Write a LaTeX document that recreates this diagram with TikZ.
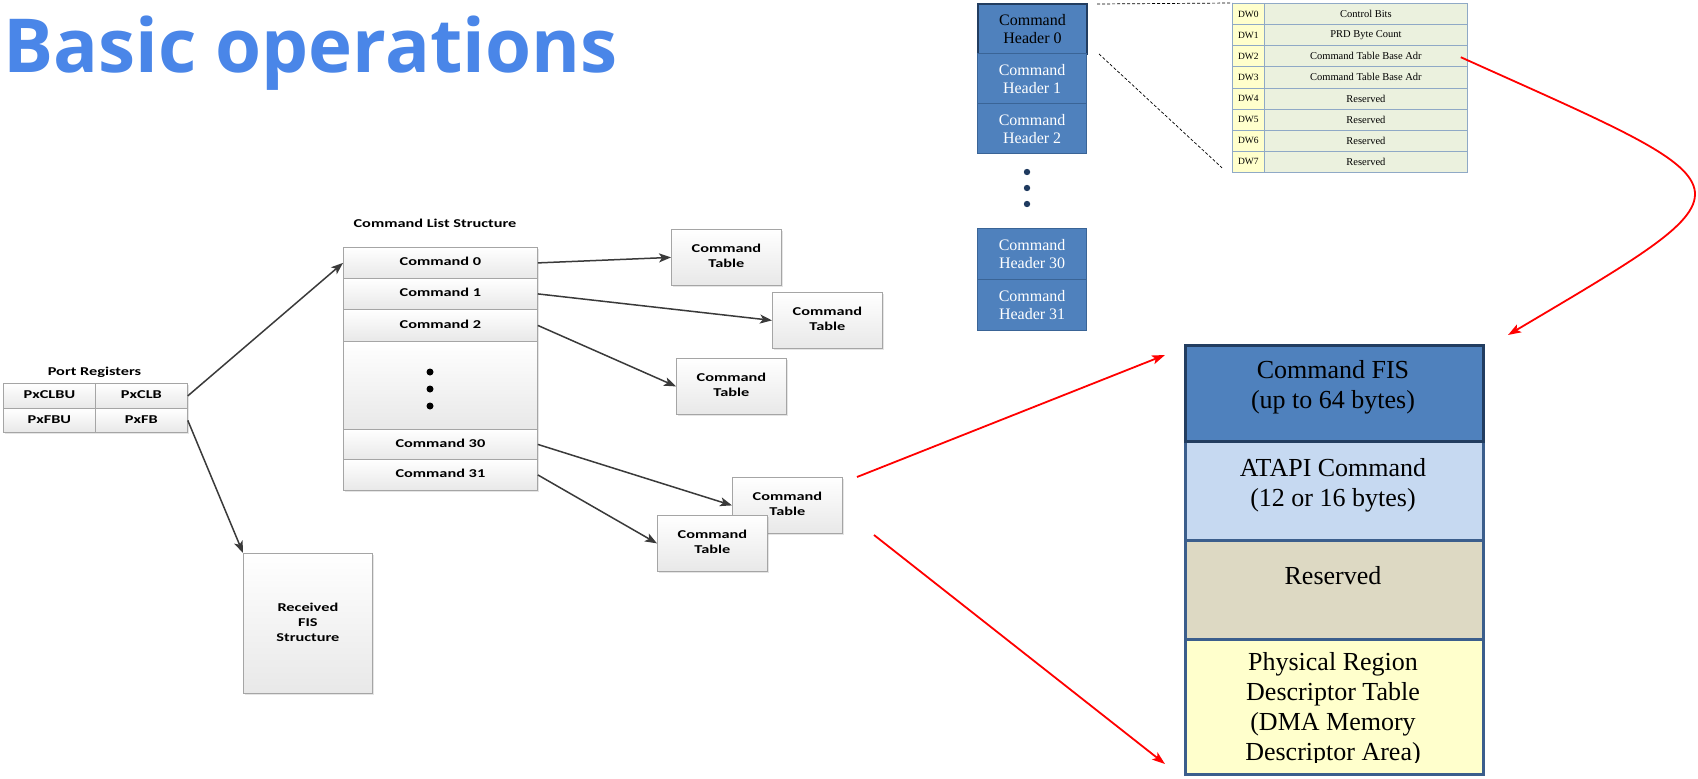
\documentclass[tikz,border=0pt]{standalone}
\usepackage{fontspec}
\usepackage{graphicx}
\setmainfont{Liberation Serif}
\newfontfamily\titlefont{Open Sans}
\newfontfamily\visiofont{Carlito}
\usetikzlibrary{arrows.meta,shadows,calc}

\definecolor{titleblue}{HTML}{4A86E8}
\definecolor{boxline}{HTML}{A5A5A5}
\definecolor{boxbot}{HTML}{E8E8E8}
\definecolor{arrowgray}{HTML}{3A3A3A}
\definecolor{hdrfill}{HTML}{4F81BD}
\definecolor{hdrline}{HTML}{3A6496}
\definecolor{hdrdark}{HTML}{223D60}
\definecolor{gridc}{HTML}{8FA9C6}
\definecolor{dwfill}{HTML}{FFFFCC}
\definecolor{descfill}{HTML}{EBF1DE}
\definecolor{atapifill}{HTML}{C6D9F1}
\definecolor{resfill}{HTML}{DDD9C3}
\definecolor{prdfill}{HTML}{FFFFCC}
\definecolor{frameblue}{HTML}{3B5E8C}
\definecolor{dotblue}{HTML}{1F3A5F}

% wide bold sans labels of the structure diagram
\newcommand{\vtext}[1]{\scalebox{1.36}[1]{\begin{tabular}{@{}c@{}}#1\end{tabular}}}

\tikzset{
  graybox/.style={draw=boxline, line width=0.8pt, top color=white, bottom color=boxbot,
    inner sep=0pt, anchor=north west, font=\visiofont\bfseries\fontsize{12}{15}\selectfont},
  shadowed/.style={drop shadow={shadow xshift=1.6pt, shadow yshift=-1.6pt, opacity=0.2}},
  cmdrow/.style={graybox, minimum width=194pt},
  cmdtab/.style={graybox, shadowed, minimum width=110pt, minimum height=56pt},
  caption/.style={inner sep=0pt, font=\visiofont\bfseries\fontsize{12}{15}\selectfont},
  link/.style={draw=arrowgray, line width=1.5pt, -{Stealth[length=12pt,width=9pt,inset=3pt]}},
  redlink/.style={draw=red, line width=1.8pt, -{Stealth[length=13pt,width=9pt,inset=3pt]}},
  hdr/.style={draw=hdrline, line width=1.2pt, fill=hdrfill, text=white, minimum width=109pt,
    minimum height=50pt, anchor=north west, inner sep=0pt, align=center,
    font=\fontsize{16}{18}\selectfont},
  dwcell/.style={draw=gridc, line width=0.8pt, fill=dwfill, minimum width=32pt,
    minimum height=21.125pt, anchor=north west, inner sep=0pt, font=\fontsize{9.5}{11}\selectfont},
  desccell/.style={draw=gridc, line width=0.8pt, fill=descfill, minimum width=203pt,
    minimum height=21.125pt, anchor=north west, inner sep=0pt, font=\fontsize{10.5}{12}\selectfont},
  sect/.style={draw=frameblue, line width=3pt, minimum width=298pt, anchor=north west, inner sep=0pt},
  secttext/.style={inner sep=0pt, align=center, font=\fontsize{26}{30}\selectfont},
  dashline/.style={draw=black, line width=0.7pt, dash pattern=on 3pt off 2pt},
}

\begin{document}
\begin{tikzpicture}[x=1pt,y=-1pt]
\useasboundingbox (0,0) rectangle (1698,779);
\fill[white] (0,0) rectangle (1698,779);

% heading
\node[anchor=base west, inner sep=0pt, text=titleblue,
  font=\titlefont\bfseries\fontsize{74.5}{80}\selectfont] (title) at (3,72) {Basic operations};

% ---- port registers ----
\node[caption] (porttitle) at (94.5,372) {\vtext{Port Registers}};
\node[graybox, shadowed, minimum width=184pt, minimum height=49pt] (portbg) at (3,383) {};
\node[graybox, minimum width=92pt, minimum height=25pt] (clbu) at (3,383) {\vtext{PxCLBU}};
\node[graybox, minimum width=92pt, minimum height=25pt] (clb) at (95,383) {\vtext{PxCLB}};
\node[graybox, minimum width=92pt, minimum height=24pt] (fbu) at (3,408) {\vtext{PxFBU}};
\node[graybox, minimum width=92pt, minimum height=24pt] (fb) at (95,408) {\vtext{PxFB}};

% ---- command list ----
\node[caption] (cmdtitle) at (435,224) {\vtext{Command List Structure}};
\node[graybox, shadowed, minimum width=194pt, minimum height=243pt] (cmdlist) at (343,247) {};
\node[cmdrow, minimum height=31pt] (cmd0) at (343,247) {\vtext{Command 0}};
\node[cmdrow, minimum height=31pt] (cmd1) at (343,278) {\vtext{Command 1}};
\node[cmdrow, minimum height=32pt] (cmd2) at (343,309) {\vtext{Command 2}};
\node[cmdrow, minimum height=88pt] (cmdgap) at (343,341) {};
\node[cmdrow, minimum height=30pt] (cmd30) at (343,429) {\vtext{Command 30}};
\node[cmdrow, minimum height=31pt] (cmd31) at (343,459) {\vtext{Command 31}};
\foreach \yy in {372,389,406} \fill[black] (430,\yy) circle (3.5);

% ---- command tables ----
\node[cmdtab] (ct1) at (671,229) {\vtext{Command\\Table}};
\node[cmdtab] (ct2) at (772,292) {\vtext{Command\\Table}};
\node[cmdtab] (ct3) at (676,358) {\vtext{Command\\Table}};
\node[cmdtab] (ct4) at (732,477) {\vtext{Command\\Table}};
\node[cmdtab] (ct5) at (657,515) {\vtext{Command\\Table}};

% ---- received FIS ----
\node[graybox, shadowed, minimum width=129pt, minimum height=140pt] (rfis) at (243,553)
  {\vtext{Received\\FIS\\Structure}};

% connectors of the structure diagram
\draw[link] (clb.east) -- (cmd0.west);
\draw[link] (fb.east) -- (rfis.north west);
\draw[link] (cmd0.east) -- (ct1.west);
\draw[link] (cmd1.east) -- (ct2.west);
\draw[link] (cmd2.east) -- (ct3.west);
\draw[link] (cmd30.east) -- (ct4.west);
\draw[link] (cmd31.east) -- (ct5.west);

% ---- command headers ----
\node[hdr, draw=hdrdark, line width=2pt, text=black] (hdr0) at (977,3) {Command\\Header 0};
\node[hdr] (hdr1) at (977,53) {Command\\Header 1};
\node[hdr] (hdr2) at (977,103) {Command\\Header 2};
\node[hdr, minimum height=51pt] (hdr30) at (977,228) {Command\\Header 30};
\node[hdr, minimum height=51pt] (hdr31) at (977,279) {Command\\Header 31};
\foreach \yy in {172,188,204} \fill[dotblue] (1027,\yy) circle (3.2);

% ---- command header layout ----
\foreach \i/\d in {0/Control Bits,1/PRD Byte Count,2/Command Table Base Adr,
    3/Command Table Base Adr,4/Reserved,5/Reserved,6/Reserved,7/Reserved}{
  \pgfmathsetmacro{\yy}{3+21.125*\i}
  \node[dwcell] (dw\i) at (1232,\yy) {DW\i};
  \node[desccell] (desc\i) at (1264,\yy) {\d};
}
\draw[dashline] ($(hdr0.north east)+(9,1)$) -- (dw0.north west);
\draw[dashline] ($(hdr0.south east)+(11,-1)$) -- ($(dw7.south west)+(-10,-5)$);

% ---- command table layout ----
\node[sect, fill=atapifill, minimum height=99pt] (atapi) at (1184,440) {};
\node[sect, fill=resfill, minimum height=98.5pt] (res) at (1184,539) {};
\node[sect, fill=prdfill, minimum height=135pt] (prdt) at (1184,637.5) {};
\node[sect, fill=hdrfill, draw=hdrdark, minimum height=96.5pt] (fis) at (1184,343.5) {};
\node[secttext] (fistxt) at (1333,387) {Command FIS\\(up to 64 bytes)};
\node[secttext] (atapitxt) at (1333,485) {ATAPI Command\\(12 or 16 bytes)};
\node[secttext, anchor=base] (restxt) at (1333,584) {Reserved};
\begin{scope}
  \clip (1186,640) rectangle (1480,762);
  \node[secttext] (prdtxt) at (1333,709.5)
    {Physical Region\\Descriptor Table\\(DMA Memory\\Descriptor Area)};
\end{scope}

% red pointers
\coordinate (rstartA) at (857,477);
\coordinate (rstartB) at (874,535);
\coordinate (rendA) at (1165,355);
\coordinate (rendB) at (1165,764);
\coordinate (cstart) at ($(desc2.east)+(-7,1)$);
\coordinate (cend) at (1508,335);
\draw[redlink] (rstartA) -- (rendA);
\draw[redlink] (rstartB) -- (rendB);
\draw[redlink] (cstart) .. controls (1760,192) and (1766,182) .. (cend);
\end{tikzpicture}
\end{document}
